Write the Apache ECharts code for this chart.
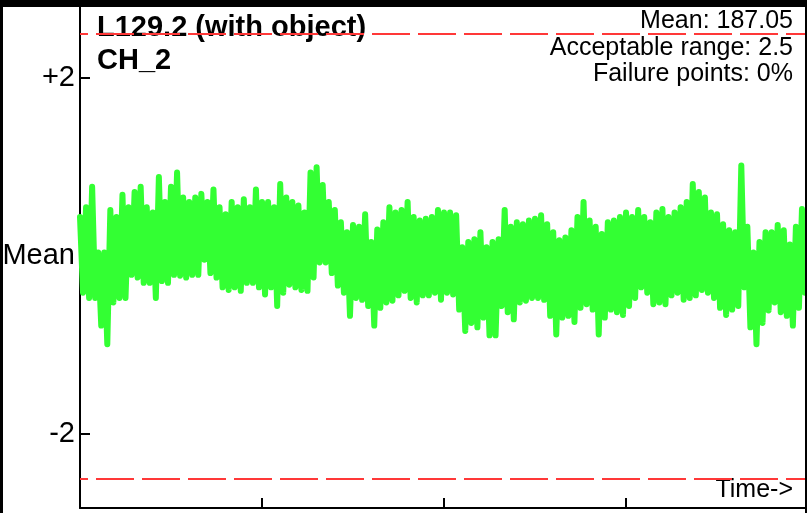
<!DOCTYPE html>
<html>
<head>
<meta charset="utf-8">
<script src="https://cdn.jsdelivr.net/npm/echarts@6/dist/echarts.min.js"></script>
<style>
html,body{margin:0;padding:0;background:#000;width:807px;height:513px;overflow:hidden;}
#c{position:absolute;left:3px;top:7px;width:802px;height:506px;background:#fff;}
</style>
</head>
<body>
<div id="c"></div>
<script>
// Upper swings of the signal (deviation from mean, axis units)
const highs = [
 0.44,0.55,0.78,0.04,0.04,0.52,0.44,0.69,0.55,0.72,0.78,0.55,0.49,0.89,0.61,0.78,0.94,0.66,0.61,0.66,
 0.70,0.61,0.75,0.55,0.47,0.61,0.55,0.64,0.55,0.75,0.61,0.61,0.55,0.81,0.66,0.61,0.57,0.49,0.94,1.00,0.80,
 0.61,0.52,0.38,0.27,0.35,0.33,0.47,0.16,0.30,0.38,0.55,0.49,0.52,0.61,0.44,0.40,0.42,0.44,0.52,0.49,0.49,
 0.46,0.10,0.16,0.19,0.27,0.10,0.16,0.19,0.52,0.33,0.38,0.36,0.40,0.42,0.46,0.36,0.27,0.18,0.21,0.29,0.44,
 0.61,0.40,0.33,0.25,0.38,0.40,0.44,0.49,0.44,0.52,0.44,0.38,0.49,0.53,0.44,0.49,0.55,0.61,0.81,0.72,0.66,
 0.49,0.47,0.36,0.29,0.27,1.02,0.33,0.04,0.16,0.27,0.27,0.35,0.29,0.13,0.33,0.53
];
// Lower swings of the signal
const lows = [
 -0.41,-0.47,-0.47,-0.78,-0.99,-0.52,-0.47,-0.47,-0.21,-0.24,-0.30,-0.30,-0.47,-0.28,-0.30,-0.21,-0.22,-0.24,-0.21,-0.21,
 -0.04,-0.19,-0.24,-0.35,-0.38,-0.35,-0.39,-0.30,-0.30,-0.35,-0.43,-0.35,-0.56,-0.41,-0.32,-0.35,-0.38,-0.39,-0.24,-0.07,-0.07,
 -0.19,-0.33,-0.41,-0.67,-0.47,-0.49,-0.56,-0.78,-0.58,-0.52,-0.50,-0.44,-0.39,-0.47,-0.52,-0.44,-0.44,-0.41,-0.49,-0.41,-0.43,
 -0.60,-0.84,-0.75,-0.80,-0.69,-0.89,-0.89,-0.56,-0.63,-0.71,-0.52,-0.50,-0.47,-0.47,-0.49,-0.67,-0.88,-0.69,-0.67,-0.74,-0.58,
 -0.54,-0.60,-0.88,-0.69,-0.60,-0.63,-0.66,-0.56,-0.47,-0.35,-0.41,-0.54,-0.52,-0.54,-0.44,-0.41,-0.49,-0.47,-0.44,-0.38,-0.41,
 -0.47,-0.58,-0.66,-0.60,-0.56,-0.35,-0.80,-0.99,-0.75,-0.61,-0.52,-0.63,-0.67,-0.78,-0.58,-0.41
];
const yTickValues = [-2, 0, 2];
const rangeLimits = [-2.5, 2.5];
const titleLines = ['L129.2 (with object)', 'CH_2'];
const infoLines = ['Mean: 187.05', 'Acceptable range: 2.5', 'Failure points: 0%'];
const xAxisName = 'Time->';

// samples in time order: each swing up followed by a swing down
const values = [];
highs.forEach((h, k) => { values.push(h, lows[k]); });
const timeIndex = values.map((_, i) => i);

const FONT = '"Liberation Sans", Arial, sans-serif';
const chart = echarts.init(document.getElementById('c'));
chart.setOption({
  animation: false,
  backgroundColor: '#fff',
  grid: { left: 77, right: 0, top: 0, bottom: 5, containLabel: false, outerBoundsMode: 'none' },
  xAxis: {
    type: 'category',
    data: timeIndex,
    boundaryGap: false,
    axisLine: { show: true, onZero: false, lineStyle: { color: '#000', width: 2 } },
    axisTick: { show: true, inside: true, length: 10, interval: 59, lineStyle: { color: '#000', width: 2 } },
    axisLabel: { show: false },
    splitLine: { show: false }
  },
  yAxis: {
    type: 'value',
    min: -2.83,
    max: 2.80,
    axisLine: { show: true, onZero: false, lineStyle: { color: '#000', width: 2 } },
    axisTick: { show: true, inside: true, length: 10, customValues: yTickValues, lineStyle: { color: '#000', width: 2 } },
    axisLabel: {
      show: true,
      customValues: yTickValues,
      margin: 5,
      color: '#000',
      fontSize: 29,
      fontFamily: FONT,
      formatter: v => v === 0 ? 'Mean' : (v > 0 ? '+' + v : String(v))
    },
    splitLine: { show: false }
  },
  series: [
    {
      type: 'line',
      z: 1,
      data: [],
      silent: true,
      markLine: {
        z: 1,
        silent: true,
        symbol: 'none',
        label: { show: false },
        data: [
          { yAxis: 0, lineStyle: { color: '#000', width: 2, type: 'solid' } },
          { yAxis: rangeLimits[0], lineStyle: { color: '#ff3838', width: 2, type: [38, 8], dashOffset: 30 } },
          { yAxis: rangeLimits[1], lineStyle: { color: '#ff3838', width: 2, type: [38, 8], dashOffset: 30 } }
        ]
      }
    },
    {
      type: 'line',
      z: 10,
      data: values,
      showSymbol: false,
      silent: true,
      lineStyle: { color: '#33ff33', width: 6, cap: 'round', join: 'round' }
    }
  ],
  graphic: [
    { type: 'text', left: 94, top: 6, style: { text: titleLines[0], font: 'bold 29px ' + FONT, fill: '#000' } },
    { type: 'text', left: 94, top: 39, style: { text: titleLines[1], font: 'bold 29px ' + FONT, fill: '#000' } },
    { type: 'text', right: 12, top: 2, style: { text: infoLines[0], font: '25px ' + FONT, fill: '#000', align: 'right' } },
    { type: 'text', right: 12, top: 29, style: { text: infoLines[1], font: '25px ' + FONT, fill: '#000', align: 'right' } },
    { type: 'text', right: 12, top: 55, style: { text: infoLines[2], font: '25px ' + FONT, fill: '#000', align: 'right' } },
    { type: 'text', right: 12, top: 471, style: { text: xAxisName, font: '25px ' + FONT, fill: '#000', align: 'right' } }
  ]
});
</script>
</body>
</html>
